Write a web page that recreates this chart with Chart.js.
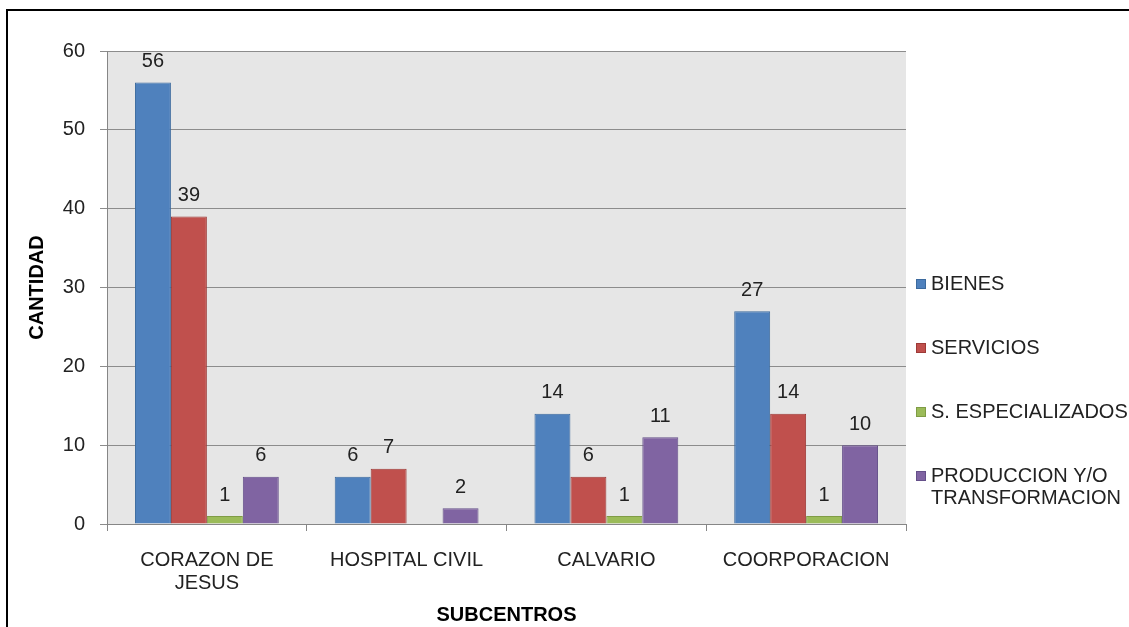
<!DOCTYPE html>
<html lang="es">
<head>
<meta charset="UTF-8">
<title>Subcentros</title>
<script src="https://cdn.jsdelivr.net/npm/chart.js@4"></script>
<style>
  body { margin: 0; background: #fff; overflow: hidden; }
  #frame { position: absolute; left: 6px; top: 9px; width: 1200px; height: 700px; border: 2px solid #000; }
  #wrap { position: absolute; left: 0; top: 0; width: 1129px; height: 627px; }
</style>
</head>
<body>
<div id="frame"></div>
<div id="wrap"><canvas id="chart"></canvas></div>
<script>
  const categories = [['CORAZON DE', 'JESUS'], 'HOSPITAL CIVIL', 'CALVARIO', 'COORPORACION']
  const seriesNames = ['BIENES', 'SERVICIOS', 'S. ESPECIALIZADOS', 'PRODUCCION Y/O\nTRANSFORMACION']
  const bienes = [56, 6, 14, 27]
  const servicios = [39, 7, 6, 14]
  const especializados = [1, null, 1, 1]
  const produccion = [6, 2, 11, 10]
  const fills = ['#4f81bd', '#c0504d', '#9bbb59', '#8064a2']
  const edges = ['#3c6a9e', '#9d3a37', '#7f9c45', '#65508a']

  const FONT = '"Liberation Sans", Arial, sans-serif'
  Chart.defaults.font.family = FONT
  Chart.defaults.color = '#222'

  const plotBg = {
    id: 'plotBg',
    beforeDraw(chart) {
      const { ctx, chartArea: a } = chart
      ctx.save()
      ctx.fillStyle = '#e6e6e6'
      ctx.fillRect(a.left, a.top, a.right - a.left, a.bottom - a.top)
      ctx.restore()
    }
  }

  const barLabels = {
    id: 'barLabels',
    afterDatasetsDraw(chart) {
      const ctx = chart.ctx
      ctx.save()
      ctx.font = '20px ' + FONT
      ctx.fillStyle = '#222'
      ctx.textAlign = 'center'
      ctx.textBaseline = 'middle'
      chart.data.datasets.forEach((ds, i) => {
        chart.getDatasetMeta(i).data.forEach((bar, j) => {
          const v = ds.data[j]
          if (v == null) return
          ctx.fillText(v, bar.x, bar.y - 21)
        })
      })
      ctx.restore()
    }
  }

  // legend drawn by hand: Chart.js legend can't wrap the last label
  const sideLegend = {
    id: 'sideLegend',
    afterDraw(chart) {
      const { ctx, chartArea: a } = chart
      ctx.save()
      ctx.font = '20px ' + FONT
      ctx.fillStyle = '#222'
      ctx.textBaseline = 'middle'
      const x = a.right + 10
      seriesNames.forEach((name, i) => {
        const y = a.top + 233 + i * 64
        ctx.fillStyle = fills[i]
        ctx.fillRect(x, y - 5, 10, 10)
        ctx.strokeStyle = edges[i]
        ctx.lineWidth = 1
        ctx.strokeRect(x + 0.5, y - 4.5, 9, 9)
        ctx.fillStyle = '#222'
        name.split('\n').forEach((line, k) => {
          ctx.fillText(line, x + 15, y + k * 22)
        })
      })
      ctx.restore()
    }
  }

  const series = [bienes, servicios, especializados, produccion]

  new Chart(document.getElementById('chart'), {
    type: 'bar',
    data: {
      labels: categories,
      datasets: series.map((data, i) => ({
        label: seriesNames[i].replace('\n', ' '),
        data,
        backgroundColor: fills[i],
        borderColor: edges[i],
        borderWidth: 1,
        categoryPercentage: 0.72,
        barPercentage: 1
      }))
    },
    options: {
      responsive: true,
      maintainAspectRatio: false,
      animation: false,
      layout: { padding: { left: 20, right: 223, top: 51, bottom: 0 } },
      plugins: {
        legend: { display: false },
        tooltip: { enabled: false }
      },
      scales: {
        x: {
          grid: { drawOnChartArea: false, drawTicks: true, tickLength: 7, color: '#868686', offset: true },
          border: { color: '#868686' },
          ticks: { font: { size: 20, lineHeight: 1.15 }, color: '#222', padding: 18, maxRotation: 0, autoSkip: false },
          title: { display: true, text: 'SUBCENTROS', font: { size: 20, weight: 'bold' }, color: '#000', padding: { top: 0, bottom: 0 } },
          afterFit: s => { s.height = 103 }
        },
        y: {
          min: 0,
          max: 60,
          ticks: { stepSize: 10, font: { size: 20 }, color: '#222', padding: 15 },
          grid: { color: '#8c8c8c', tickLength: 7 },
          border: { color: '#868686' },
          title: { display: true, text: 'CANTIDAD', font: { size: 20, weight: 'bold' }, color: '#000', padding: { top: 5, bottom: 0 } },
          afterFit: s => { s.width = 87 }
        }
      }
    },
    plugins: [plotBg, barLabels, sideLegend]
  })
</script>
</body>
</html>
